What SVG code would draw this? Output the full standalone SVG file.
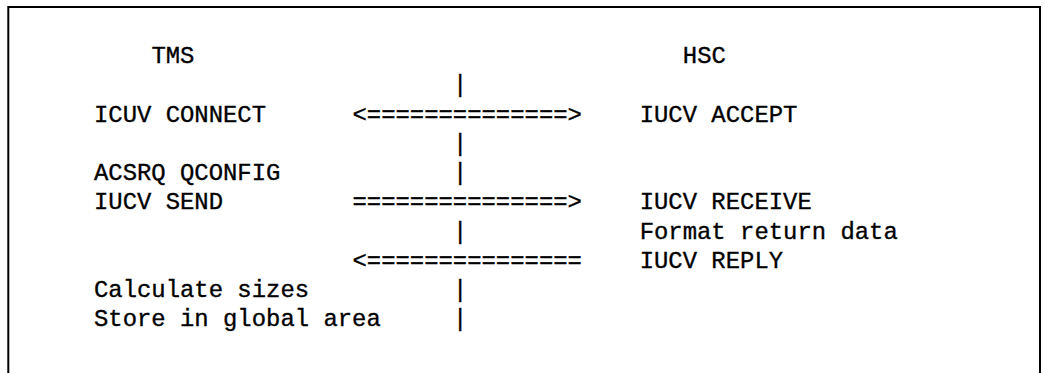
<svg xmlns="http://www.w3.org/2000/svg" width="1045" height="373" viewBox="0 0 1045 373">
<style>
text{font-family:"Liberation Mono","DejaVu Sans Mono",monospace;font-size:23.9px;fill:#000;stroke:#000;stroke-width:0.35;white-space:pre}
.frame{fill:#fff;stroke:#000;stroke-width:2}
</style>
<rect x="0" y="0" width="1045" height="373" fill="#fff"/>
<rect class="frame" x="8.3" y="7" width="1031.7" height="400"/>
<g id="tms">
<text x="151.4" y="63">TMS</text>
<text x="94" y="121.5">ICUV CONNECT</text>
<text x="94" y="180">ACSRQ QCONFIG</text>
<text x="94" y="209.25">IUCV SEND</text>
<text x="94" y="297">Calculate sizes</text>
<text x="94" y="326.25">Store in global area</text>
</g>
<g id="hsc">
<text x="682.8" y="63">HSC</text>
<text x="639.7" y="121.5">IUCV ACCEPT</text>
<text x="639.7" y="209.25">IUCV RECEIVE</text>
<text x="639.7" y="238.5">Format return data</text>
<text x="639.7" y="267.75">IUCV REPLY</text>
</g>
<g id="connectors">
<text x="453" y="92.25">|</text>
<text x="352.5" y="121.5">&lt;==============&gt;</text>
<text x="453" y="150.75">|</text>
<text x="453" y="180">|</text>
<text x="352.5" y="209.25">===============&gt;</text>
<text x="453" y="238.5">|</text>
<text x="352.5" y="267.75">&lt;===============</text>
<text x="453" y="297">|</text>
<text x="453" y="326.25">|</text>
</g>
</svg>
